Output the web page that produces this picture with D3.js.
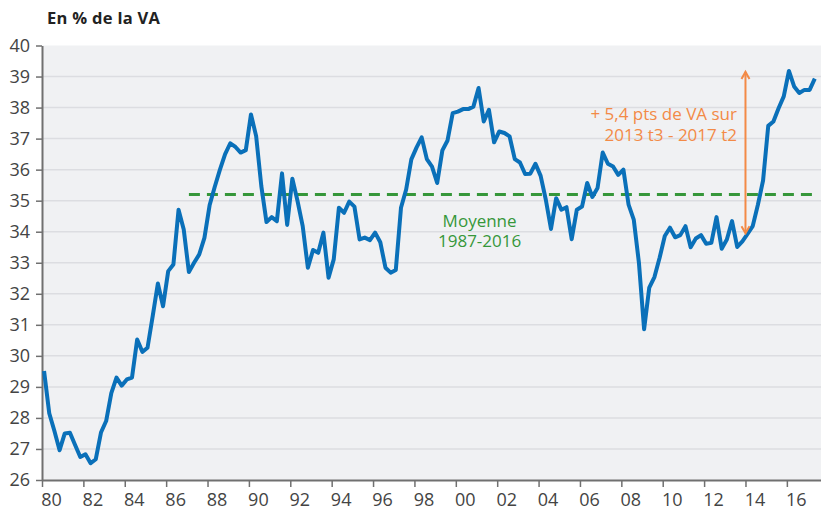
<!DOCTYPE html>
<html lang="fr">
  <head>
    <meta charset="UTF-8" />
    <title>Taux de marge</title>
    <style>
      body { margin: 0; background: #fff; }
      text { font-family: "Open Sans", sans-serif; }
    </style>
  </head>
  <body>
    <div id="chart"></div>
    <script src="https://d3js.org/d3.v7.min.js"></script>
    <script>
      // quarterly series, 1980 t1 -> 2017 t2 (en % de la VA)
      var startYear = 1980;
      var values = [
        29.51, 28.15, 27.58, 26.96, 27.50, 27.52, 27.13, 26.74, 26.83, 26.54,
        26.67, 27.53, 27.90, 28.80, 29.30, 29.04, 29.24, 29.30, 30.53, 30.13,
        30.26, 31.28, 32.33, 31.60, 32.73, 32.94, 34.71, 34.07, 32.70, 33.00,
        33.27, 33.80, 34.85, 35.45, 36.00, 36.50, 36.85, 36.73, 36.55, 36.63,
        37.78, 37.08, 35.47, 34.31, 34.47, 34.34, 35.88, 34.22, 35.71, 34.99,
        34.18, 32.84, 33.41, 33.32, 33.97, 32.52, 33.11, 34.77, 34.61, 34.97,
        34.81, 33.75, 33.81, 33.73, 33.97, 33.66, 32.84, 32.68, 32.77, 34.77,
        35.36, 36.33, 36.71, 37.04, 36.34, 36.10, 35.57, 36.62, 36.94, 37.82,
        37.87, 37.95, 37.95, 38.03, 38.63, 37.55, 37.93, 36.88, 37.23, 37.18,
        37.07, 36.34, 36.23, 35.86, 35.87, 36.19, 35.80, 35.03, 34.09, 35.08,
        34.71, 34.79, 33.76, 34.71, 34.81, 35.57, 35.12, 35.41, 36.55, 36.19,
        36.10, 35.83, 36.00, 34.87, 34.39, 33.00, 30.86, 32.20, 32.54, 33.16,
        33.86, 34.13, 33.82, 33.89, 34.18, 33.50, 33.78, 33.89, 33.61, 33.64,
        34.47, 33.45, 33.75, 34.34, 33.51, 33.69, 33.93, 34.18, 34.87, 35.65,
        37.41, 37.55, 37.98, 38.36, 39.18, 38.68, 38.47, 38.57, 38.57, 38.93
      ];

      // moyenne 1987-2016
      var meanValue = 35.2;
      var meanStart = 1987;

      // +5,4 pts arrow (2013 t3 -> 2017 t2)
      var arrowYear = 2014;
      var arrowFrom = 33.95;
      var arrowTo = 39.15;

      var yTicks = [26, 27, 28, 29, 30, 31, 32, 33, 34, 35, 36, 37, 38, 39, 40];
      var xTickYears = [1980, 1982, 1984, 1986, 1988, 1990, 1992, 1994, 1996, 1998,
        2000, 2002, 2004, 2006, 2008, 2010, 2012, 2014, 2016];
      var xTickLabels = ["80", "82", "84", "86", "88", "90", "92", "94", "96", "98",
        "00", "02", "04", "06", "08", "10", "12", "14", "16"];

      var data = values.map(function (v, i) {
        return { t: startYear + i / 4 + 0.1, v: v };
      });

      var totalW = 821, totalH = 510;
      var margin = { top: 45.5, right: 0, bottom: 30, left: 42 },
        width = totalW - margin.left - margin.right,
        height = totalH - margin.top - margin.bottom;

      var svg = d3
        .select("#chart")
        .append("svg")
        .attr("width", totalW)
        .attr("height", totalH);

      // title
      svg
        .append("text")
        .attr("x", 47)
        .attr("y", 24)
        .style("font-size", "16.5px")
        .style("font-weight", "bold")
        .style("letter-spacing", "0.3px")
        .attr("fill", "#222")
        .text("En % de la VA");

      var g = svg
        .append("g")
        .attr("transform", "translate(" + margin.left + "," + margin.top + ")");

      var x = d3.scaleLinear().domain([1980, 2017.65]).range([0, width]);
      var y = d3.scaleLinear().domain([26, 40]).range([height, 0]);

      // plot background
      g.append("rect")
        .attr("width", width)
        .attr("height", height)
        .attr("fill", "#f0f1f3");

      // gridlines
      g.append("g")
        .selectAll("line")
        .data(yTicks.slice(1, -1))
        .enter()
        .append("line")
        .attr("x1", 0)
        .attr("x2", width)
        .attr("y1", function (d) { return y(d); })
        .attr("y2", function (d) { return y(d); })
        .attr("stroke", "#dcdde1")
        .attr("stroke-width", 1.5);

      // Y axis
      var yAxis = g
        .append("g")
        .call(d3.axisLeft(y).tickValues(yTicks).tickSize(6).tickSizeOuter(0));
      yAxis.select(".domain").attr("stroke", "#707070").attr("stroke-width", 2);
      yAxis.selectAll(".tick line").attr("stroke", "#707070").attr("stroke-width", 1.5);
      yAxis
        .selectAll("text")
        .attr("x", -12)
        .style("font-size", "18px")
        .attr("fill", "#444");

      // X axis
      var xAxis = g
        .append("g")
        .attr("transform", "translate(0," + height + ")")
        .call(
          d3.axisBottom(x)
            .tickValues(xTickYears)
            .tickFormat(function (d, i) { return xTickLabels[i]; })
            .tickSize(7)
            .tickSizeOuter(0)
        );
      xAxis.select(".domain").attr("stroke", "#707070").attr("stroke-width", 2);
      xAxis.selectAll(".tick line").attr("stroke", "#707070").attr("stroke-width", 1.5);
      xAxis
        .selectAll("text")
        .attr("y", 13)
        .attr("dx", 9)
        .style("font-size", "18px")
        .attr("fill", "#444");

      // mean dashed line
      var last = data[data.length - 1];
      g.append("line")
        .attr("x1", x(meanStart + 0.1))
        .attr("x2", x(last.t))
        .attr("y1", y(meanValue))
        .attr("y2", y(meanValue))
        .attr("stroke", "#36973a")
        .attr("stroke-width", 3)
        .attr("stroke-dasharray", "11,7");

      var labelX = x(2001.15);
      g.append("text")
        .attr("y", 181)
        .attr("text-anchor", "middle")
        .style("font-size", "17px")
        .attr("fill", "#36973a")
        .selectAll("tspan")
        .data(["Moyenne", "1987-2016"])
        .enter()
        .append("tspan")
        .attr("x", labelX)
        .attr("dy", function (d, i) { return i === 0 ? 0 : 20; })
        .text(function (d) { return d; });

      // the series
      var line = d3
        .line()
        .x(function (d) { return x(d.t); })
        .y(function (d) { return y(d.v); });

      g.append("path")
        .datum(data)
        .attr("fill", "none")
        .attr("stroke", "#0a70b9")
        .attr("stroke-width", 4)
        .attr("stroke-linejoin", "round")
        .attr("d", line);

      // arrow
      var orange = "#f38a46";
      var ax = x(arrowYear);
      g.append("line")
        .attr("x1", ax)
        .attr("x2", ax)
        .attr("y1", y(arrowTo))
        .attr("y2", y(arrowFrom))
        .attr("stroke", orange)
        .attr("stroke-width", 2);
      g.append("path")
        .attr("d", "M" + (ax - 4) + "," + (y(arrowTo) + 7) + "L" + ax + "," + y(arrowTo) + "L" + (ax + 4) + "," + (y(arrowTo) + 7))
        .attr("fill", "none")
        .attr("stroke", orange)
        .attr("stroke-width", 2);
      g.append("path")
        .attr("d", "M" + (ax - 4) + "," + (y(arrowFrom) - 7) + "L" + ax + "," + y(arrowFrom) + "L" + (ax + 4) + "," + (y(arrowFrom) - 7))
        .attr("fill", "none")
        .attr("stroke", orange)
        .attr("stroke-width", 2);

      g.append("text")
        .attr("y", 120 - margin.top)
        .attr("text-anchor", "end")
        .style("font-size", "17px")
        .attr("fill", orange)
        .selectAll("tspan")
        .data(["+ 5,4 pts de VA sur", "2013 t3 - 2017 t2"])
        .enter()
        .append("tspan")
        .attr("x", ax - 8.5)
        .attr("dy", function (d, i) { return i === 0 ? 0 : 21; })
        .text(function (d) { return d; });
    </script>
  </body>
</html>
